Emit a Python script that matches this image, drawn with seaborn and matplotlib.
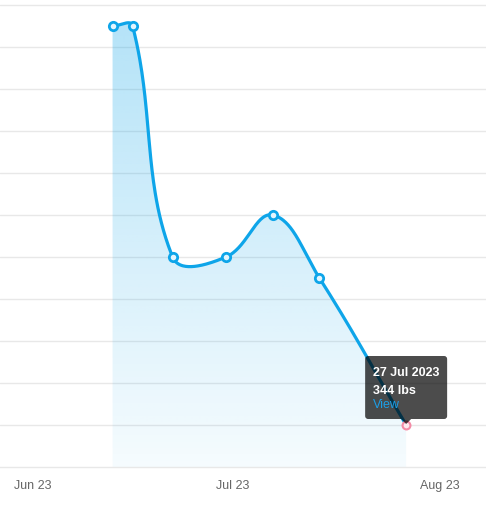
import numpy as np
import pandas as pd
import matplotlib
matplotlib.use("Agg")
import matplotlib.pyplot as plt
import matplotlib.dates as mdates
from matplotlib.patches import Polygon, FancyBboxPatch
import seaborn as sns

# ---- data ----
dates = ["2023-06-13", "2023-06-16", "2023-06-22", "2023-06-30",
         "2023-07-07", "2023-07-14", "2023-07-27"]
weights = [363, 363, 352, 352, 354, 351, 344]
tick_dates = ["2023-06-01", "2023-07-01", "2023-08-01"]
tick_labels = ["Jun 23", "Jul 23", "Aug 23"]
tooltip_lines = ["27 Jul 2023", "344 lbs", "View"]

LINE = "#0ea5e9"
W, H = 486, 506

sns.set_theme(style="white")
plt.rcParams["font.family"] = ["Liberation Sans", "DejaVu Sans"]

fig = plt.figure(figsize=(W / 100, H / 100), dpi=100)
ax = fig.add_axes([0, (H - 468) / H, 1, 468 / H])

xd = mdates.date2num(pd.to_datetime(dates))
yd = np.array(weights, dtype=float)
jun1 = mdates.date2num(pd.Timestamp("2023-06-01"))
ppd = 407 / 61.0
ax.set_xlim(jun1 - 32.5 / ppd, jun1 + (W - 32.5) / ppd)
ax.set_ylim(342, 364 + 6 / 21)

# ---- Chart.js style spline (tension 0.4) in pixel space ----
trans = ax.transData
pts = trans.transform(np.column_stack([xd, yd]))
n = len(pts)
t = 0.4
cprev = np.zeros_like(pts)
cnext = np.zeros_like(pts)
for i in range(n):
    p0 = pts[max(i - 1, 0)]
    p1 = pts[i]
    p2 = pts[min(i + 1, n - 1)]
    d01 = np.hypot(*(p1 - p0))
    d12 = np.hypot(*(p2 - p1))
    s = d01 + d12
    s01 = d01 / s if s else 0
    s12 = d12 / s if s else 0
    cprev[i] = p1 - t * s01 * (p2 - p0)
    cnext[i] = p1 + t * s12 * (p2 - p0)
curve = []
tt = np.linspace(0, 1, 60)[:, None]
for i in range(n - 1):
    a, b, c, d = pts[i], cnext[i], cprev[i + 1], pts[i + 1]
    seg = (1 - tt) ** 3 * a + 3 * (1 - tt) ** 2 * tt * b + 3 * (1 - tt) * tt ** 2 * c + tt ** 3 * d
    curve.append(seg if i == 0 else seg[1:])
curve = np.vstack(curve)
curve_d = trans.inverted().transform(curve)

# ---- gradient fill ----
poly_xy = np.vstack([curve_d, [[curve_d[-1, 0], 342], [curve_d[0, 0], 342]]])
poly = Polygon(poly_xy, closed=True, facecolor="none", edgecolor="none")
ax.add_patch(poly)
grad = np.linspace(1, 0, 256)[:, None]
rgb = np.array(matplotlib.colors.to_rgb(LINE))
alpha = 0.04 + 0.28 * grad
img = np.zeros((256, 1, 4))
img[..., :3] = rgb
img[..., 3] = alpha
im = ax.imshow(img, aspect="auto", extent=[ax.get_xlim()[0], ax.get_xlim()[1], 342, 364],
               origin="upper", zorder=1, interpolation="bilinear")
im.set_clip_path(poly)
ax.set_xlim(jun1 - 32.5 / ppd, jun1 + (W - 32.5) / ppd)
ax.set_ylim(342, 364 + 6 / 21)

# ---- line ----
df_curve = pd.DataFrame({"x": curve_d[:, 0], "y": curve_d[:, 1]})
sns.lineplot(data=df_curve, x="x", y="y", sort=False, estimator=None, color=LINE,
             linewidth=2.3, ax=ax, zorder=3)

# ---- markers ----
df_pts = pd.DataFrame({"x": xd, "y": yd})
sns.scatterplot(data=df_pts.iloc[:-1], x="x", y="y", s=36, color="#e3f5fe",
                edgecolor=LINE, linewidth=2.0, ax=ax, zorder=4)
sns.scatterplot(data=df_pts.iloc[-1:], x="x", y="y", s=32, color="#fde8ee",
                edgecolor="#f38ba6", linewidth=1.5, ax=ax, zorder=4)

# ---- grid / axes ----
ax.set_yticks(np.arange(344, 365, 2))
ax.set_xticks(mdates.date2num(pd.to_datetime(tick_dates)))
ax.set_xticklabels(tick_labels)
ax.tick_params(axis="x", length=0, pad=8.5, labelsize=9, labelcolor="#666666")
ax.tick_params(axis="y", length=0, labelleft=False)
ax.grid(axis="y", color="#e8e8e8", linewidth=1)
ax.grid(axis="x", visible=False)
for sp in ["left", "right", "top"]:
    ax.spines[sp].set_visible(False)
ax.spines["bottom"].set_color("#e8e8e8")
ax.spines["bottom"].set_linewidth(1)
ax.set_xlabel("")
ax.set_ylabel("")
ax.set_facecolor("white")

# ---- tooltip (display coords) ----
px, py = ax.transData.transform((xd[-1], yd[-1]))
bw, bh = 82, 63
left = px - bw / 2
bottom = py + 6
box = FancyBboxPatch((left, bottom), bw, bh, boxstyle="round,pad=0,rounding_size=3",
                     transform=None, facecolor=(0, 0, 0, 0.7), edgecolor="none", zorder=6)
fig.patches.append(box)
caret = Polygon([[px - 5, bottom], [px + 5, bottom], [px, bottom - 5]], closed=True,
                transform=None, facecolor=(0, 0, 0, 0.7), edgecolor="none", zorder=6)
fig.patches.append(caret)
top = bottom + bh
tx = left + 8
fig.text(tx / W, (top - 16.5) / H, tooltip_lines[0], color="white", fontsize=9,
         fontweight="bold", va="center", ha="left", zorder=7)
fig.text(tx / W, (top - 34.5) / H, tooltip_lines[1], color="white", fontsize=9,
         fontweight="bold", va="center", ha="left", zorder=7)
fig.text(tx / W, (top - 48.5) / H, tooltip_lines[2], color="#1c9ee6", fontsize=9,
         va="center", ha="left", zorder=7)

fig.savefig("out.png", dpi=100, facecolor="white")
